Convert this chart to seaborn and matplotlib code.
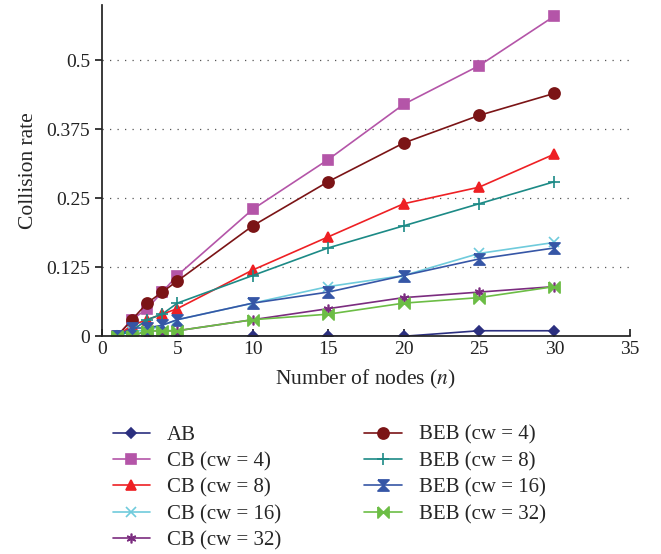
import numpy as np
import pandas as pd
import seaborn as sns
import matplotlib.pyplot as plt

sns.set_theme(style='ticks')
plt.rcParams['font.family'] = ['Liberation Serif', 'DejaVu Serif']
plt.rcParams['mathtext.fontset'] = 'stix'

# data
nodes = [1, 2, 3, 4, 5, 10, 15, 20, 25, 30]
ab = [0, 0, 0, 0, 0, 0, 0, 0, 0.01, 0.01]
cb_4 = [0, 0.03, 0.05, 0.08, 0.11, 0.23, 0.32, 0.42, 0.49, 0.58]
cb_8 = [0, 0.02, 0.03, 0.04, 0.05, 0.12, 0.18, 0.24, 0.27, 0.33]
cb_16 = [0, 0.01, 0.01, 0.02, 0.03, 0.06, 0.09, 0.11, 0.15, 0.17]
cb_32 = [0, 0, 0.01, 0.01, 0.01, 0.03, 0.05, 0.07, 0.08, 0.09]
beb_4 = [0, 0.03, 0.06, 0.08, 0.10, 0.20, 0.28, 0.35, 0.40, 0.44]
beb_8 = [0, 0.01, 0.03, 0.04, 0.06, 0.11, 0.16, 0.20, 0.24, 0.28]
beb_16 = [0, 0.015, 0.015, 0.02, 0.03, 0.06, 0.08, 0.11, 0.14, 0.16]
beb_32 = [0, 0, 0.01, 0.01, 0.01, 0.03, 0.04, 0.06, 0.07, 0.09]

labels = ['AB', 'CB (cw = 4)', 'CB (cw = 8)', 'CB (cw = 16)', 'CB (cw = 32)',
          'BEB (cw = 4)', 'BEB (cw = 8)', 'BEB (cw = 16)', 'BEB (cw = 32)']
series = [ab, cb_4, cb_8, cb_16, cb_32, beb_4, beb_8, beb_16, beb_32]

colors = ['#2b2f7f', '#b455a8', '#ee2024', '#6fcbdc', '#7b2c7f',
          '#7b1416', '#1c8a86', '#3656a6', '#6cbd45']
hourglass = [(-1, 1), (1, 1), (-1, -1), (1, -1), (-1, 1)]
bowtie = [(-1, 1), (-1, -1), (1, 1), (1, -1), (-1, 1)]
markers = ['D', 's', '^', 'x', (6, 2, 0), 'o', '+', hourglass, bowtie]
sizes = [5, 7, 7, 7, 7, 8, 8, 8, 8]

fig = plt.figure(figsize=(6.61, 5.54), dpi=100)
ax = fig.add_axes([0.154, 0.393, 0.799, 0.598])

for lab, vals, c, m, s in zip(labels, series, colors, markers, sizes):
    sns.lineplot(x=nodes, y=vals, ax=ax, color=c, marker=m, markersize=s,
                 markeredgecolor=c, markerfacecolor=c, linewidth=1.2,
                 markeredgewidth=1.2, label=lab)

ax.set_xlim(0, 35)
ax.set_ylim(0, 0.6)
ax.set_xticks([0, 5, 10, 15, 20, 25, 30, 35])
ax.set_yticks([0, 0.125, 0.25, 0.375, 0.5])
ax.set_yticklabels(['0', '0.125', '0.25', '0.375', '0.5'])
for yv in [0.125, 0.25, 0.375, 0.5]:
    ax.axhline(yv, color='#555555', linestyle=(0, (1, 5)), linewidth=0.9, zorder=0)
sns.despine(ax=ax)
ax.spines['left'].set_color('#222222')
ax.spines['bottom'].set_color('#222222')
ax.tick_params(axis='x', direction='in', length=5, labelsize=14, colors='#222222')
ax.tick_params(axis='y', direction='out', length=5, labelsize=14, colors='#222222')
ax.set_xlabel('Number of nodes ($\\mathit{n}$)', fontsize=15.5, labelpad=7)
ax.set_ylabel('Collision rate', fontsize=15.5, labelpad=6)

ax.legend(ncol=2, loc='upper left', bbox_to_anchor=(-0.015, -0.212), frameon=False,
          fontsize=15, handlelength=1.8, columnspacing=4.0, labelspacing=0.33,
          handletextpad=0.8)

fig.savefig('out.png', dpi=100)
